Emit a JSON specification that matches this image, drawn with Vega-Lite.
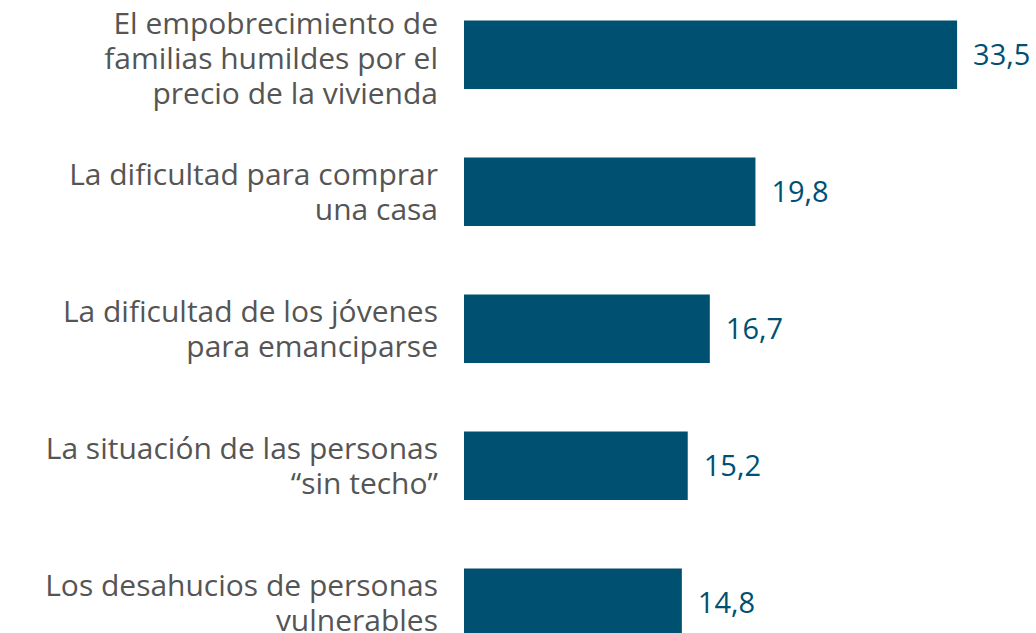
{
  "$schema": "https://vega.github.io/schema/vega-lite/v6.json",
  "width": 572,
  "height": 657.6,
  "autosize": "none",
  "padding": {"left": 464, "top": 0, "right": 0, "bottom": 0},
  "background": "white",
  "config": {
    "view": {"stroke": null},
    "locale": {
      "number": {"decimal": ",", "thousands": ".", "grouping": [3], "currency": ["", " €"]}
    }
  },
  "data": {
    "values": [
      {"tema": "El empobrecimiento de\nfamilias humildes por el\nprecio de la vivienda", "valor": 33.5},
      {"tema": "La dificultad para comprar\nuna casa", "valor": 19.8},
      {"tema": "La dificultad de los jóvenes\npara emanciparse", "valor": 16.7},
      {"tema": "La situación de las personas\n“sin techo”", "valor": 15.2},
      {"tema": "Los desahucios de personas\nvulnerables", "valor": 14.8}
    ]
  },
  "encoding": {
    "y": {
      "field": "tema",
      "type": "nominal",
      "sort": null,
      "axis": null,
      "scale": {"paddingInner": 0.5, "paddingOuter": 0.15}
    }
  },
  "layer": [
    {
      "mark": {"type": "bar", "color": "#005072"},
      "encoding": {
        "x": {"field": "valor", "type": "quantitative", "scale": {"domain": [0, 38.86], "nice": false}, "axis": null}
      }
    },
    {
      "mark": {"type": "text", "align": "left", "baseline": "middle", "dx": 16, "dy": 1, "fontSize": 29, "font": "Open Sans", "color": "#005072"},
      "encoding": {
        "x": {"field": "valor", "type": "quantitative"},
        "text": {"field": "valor", "type": "quantitative", "format": ".1f"}
      }
    },
    {
      "transform": [{"filter": "length(split(datum.tema, '\\n')) == 2"}],
      "mark": {"type": "text", "align": "right", "baseline": "alphabetic", "dx": -26, "dy": -7, "fontSize": 30, "lineHeight": 35, "lineBreak": "\n", "font": "Open Sans", "color": "#555555"},
      "encoding": {
        "x": {"datum": 0, "type": "quantitative"},
        "text": {"field": "tema", "type": "nominal"}
      }
    },
    {
      "transform": [{"filter": "length(split(datum.tema, '\\n')) == 3"}],
      "mark": {"type": "text", "align": "right", "baseline": "alphabetic", "dx": -26, "dy": -21, "fontSize": 30, "lineHeight": 35, "lineBreak": "\n", "font": "Open Sans", "color": "#555555"},
      "encoding": {
        "x": {"datum": 0, "type": "quantitative"},
        "text": {"field": "tema", "type": "nominal"}
      }
    }
  ]
}
